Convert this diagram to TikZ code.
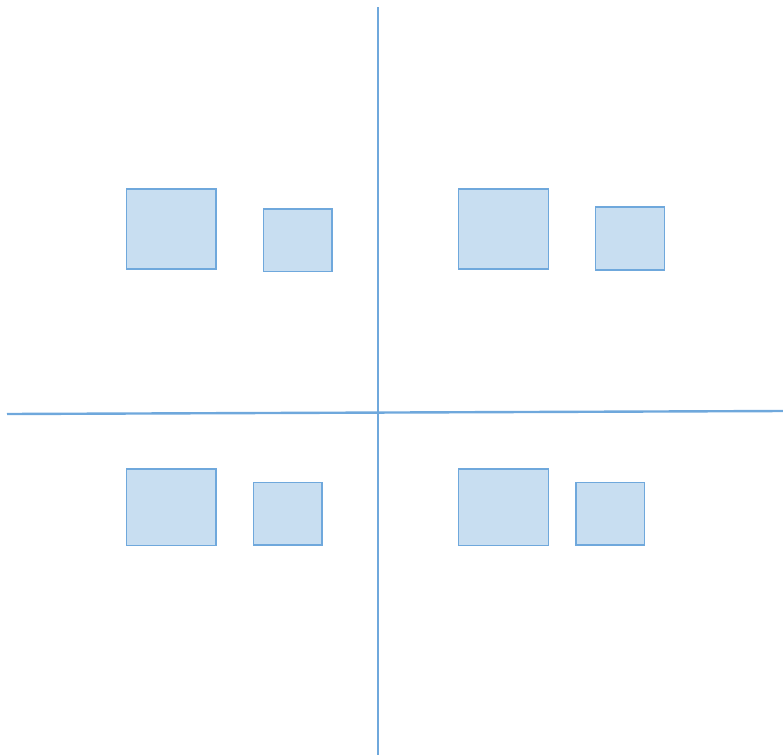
\documentclass[tikz,border=0pt]{standalone}
\definecolor{boxfill}{RGB}{200,222,241}
\definecolor{boxline}{RGB}{111,168,220}
\begin{document}
\begin{tikzpicture}[x=1pt,y=-1pt,
  box/.style={draw=boxline,fill=boxfill,line width=1.2pt,inner sep=0pt,outer sep=0pt,rectangle},
  axis/.style={draw=boxline,line width=2.4pt}]
\useasboundingbox (0,0) rectangle (783,755);
% axes
\coordinate (vtop) at (378,7);
\coordinate (vbot) at (378,755);
\coordinate (hleft) at (7,414);
\coordinate (hright) at (783,411);
\draw[axis] (vtop) -- (vbot);
\draw[axis] (hleft) -- (hright);
% boxes: (x1,y1) to (x2,y2)
\newcommand{\mybox}[5]{\node[box,minimum width={#4-#2},minimum height={#5-#3}] (#1) at ({(#2+#4)/2},{(#3+#5)/2}) {};}
\mybox{tlA}{126.5}{189}{216}{269}
\mybox{tlB}{263.3}{209}{332}{271.5}
\mybox{trA}{458.7}{189}{548.3}{269}
\mybox{trB}{595.7}{207}{664.3}{270}
\mybox{blA}{126.5}{469}{216}{545.3}
\mybox{blB}{253.3}{482.3}{322}{545}
\mybox{brA}{458.7}{469}{548.3}{545.3}
\mybox{brB}{576}{482.3}{644.7}{545}
\end{tikzpicture}
\end{document}
